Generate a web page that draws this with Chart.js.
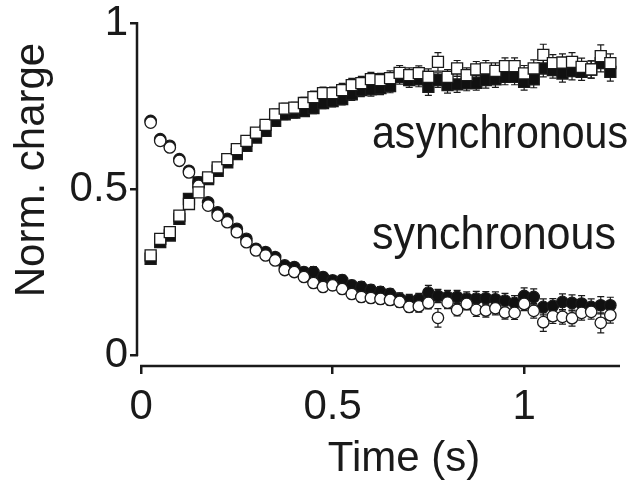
<!DOCTYPE html>
<html>
<head>
<meta charset="utf-8">
<script src="https://cdn.jsdelivr.net/npm/chart.js@4.4.0/dist/chart.umd.min.js"></script>
<style>
  body { margin: 0; background: #fff; }
  canvas { display: block; }
</style>
</head>
<body>
<canvas id="myChart" width="630" height="483"></canvas>
<script>
// time points (s)
const times = [0.025, 0.05, 0.075, 0.1, 0.125, 0.15, 0.175, 0.2, 0.225, 0.25,
  0.275, 0.3, 0.325, 0.35, 0.375, 0.4, 0.425, 0.45, 0.475, 0.5,
  0.525, 0.55, 0.575, 0.6, 0.625, 0.65, 0.675, 0.7, 0.725, 0.75,
  0.775, 0.8, 0.825, 0.85, 0.875, 0.9, 0.925, 0.95, 0.975, 1.0,
  1.025, 1.05, 1.075, 1.1, 1.125, 1.15, 1.175, 1.2, 1.225]

// asynchronous, open squares
const asyncOpen = [0.30, 0.35, 0.37, 0.42, 0.455, 0.49, 0.535, 0.565, 0.59, 0.62,
  0.645, 0.67, 0.693, 0.725, 0.742, 0.745, 0.759, 0.777, 0.789, 0.789,
  0.798, 0.813, 0.819, 0.831, 0.828, 0.834, 0.85, 0.843, 0.849, 0.838,
  0.883, 0.838, 0.863, 0.843, 0.86, 0.863, 0.856, 0.87, 0.87, 0.848,
  0.863, 0.904, 0.879, 0.881, 0.883, 0.868, 0.86, 0.90, 0.879]
const asyncOpenErr = [0.01, 0.01, 0.01, 0.012, 0.012, 0.012, 0.012, 0.012, 0.014, 0.014,
  0.014, 0.015, 0.015, 0.016, 0.016, 0.016, 0.017, 0.018, 0.018, 0.018,
  0.02, 0.02, 0.02, 0.02, 0.02, 0.022, 0.022, 0.022, 0.022, 0.024,
  0.028, 0.022, 0.024, 0.022, 0.024, 0.024, 0.024, 0.025, 0.025, 0.024,
  0.026, 0.032, 0.026, 0.026, 0.028, 0.026, 0.026, 0.034, 0.028]

// asynchronous, filled squares
const asyncFilled = [0.29, 0.34, 0.36, 0.41, 0.47, 0.52, 0.53, 0.555, 0.58, 0.605,
  0.63, 0.655, 0.675, 0.705, 0.725, 0.73, 0.735, 0.744, 0.759, 0.765,
  0.771, 0.785, 0.798, 0.80, 0.804, 0.81, 0.838, 0.828, 0.83, 0.808,
  0.828, 0.813, 0.815, 0.818, 0.82, 0.828, 0.83, 0.838, 0.838, 0.823,
  0.83, 0.863, 0.858, 0.848, 0.855, 0.853, 0.86, 0.879, 0.853]
const asyncFilledErr = [0.01, 0.01, 0.01, 0.012, 0.012, 0.012, 0.012, 0.012, 0.013, 0.013,
  0.014, 0.014, 0.015, 0.015, 0.016, 0.016, 0.016, 0.017, 0.017, 0.018,
  0.018, 0.018, 0.02, 0.02, 0.02, 0.02, 0.022, 0.022, 0.022, 0.026,
  0.022, 0.024, 0.024, 0.022, 0.022, 0.024, 0.024, 0.024, 0.024, 0.025,
  0.025, 0.025, 0.024, 0.026, 0.026, 0.026, 0.026, 0.026, 0.028]

// synchronous, open circles
const syncOpen = [0.70, 0.645, 0.625, 0.585, 0.55, 0.51, 0.45, 0.42, 0.40, 0.37,
  0.34, 0.315, 0.30, 0.285, 0.256, 0.25, 0.235, 0.217, 0.205, 0.21,
  0.199, 0.184, 0.175, 0.172, 0.169, 0.166, 0.16, 0.145, 0.147, 0.157,
  0.112, 0.158, 0.136, 0.154, 0.136, 0.134, 0.141, 0.128, 0.127, 0.154,
  0.133, 0.099, 0.117, 0.115, 0.111, 0.127, 0.13, 0.097, 0.12]
const syncOpenErr = [0.012, 0.01, 0.01, 0.01, 0.01, 0.01, 0.01, 0.01, 0.01, 0.01,
  0.01, 0.012, 0.012, 0.012, 0.012, 0.012, 0.012, 0.014, 0.014, 0.014,
  0.014, 0.014, 0.015, 0.015, 0.015, 0.016, 0.016, 0.016, 0.018, 0.018,
  0.028, 0.018, 0.018, 0.018, 0.02, 0.02, 0.02, 0.02, 0.02, 0.02,
  0.022, 0.028, 0.022, 0.022, 0.024, 0.022, 0.022, 0.03, 0.024]

// synchronous, filled circles
const syncFilled = [0.705, 0.65, 0.63, 0.59, 0.555, 0.52, 0.46, 0.43, 0.41, 0.38,
  0.35, 0.32, 0.31, 0.295, 0.27, 0.265, 0.25, 0.25, 0.235, 0.225,
  0.226, 0.21, 0.205, 0.196, 0.19, 0.184, 0.17, 0.165, 0.168, 0.188,
  0.178, 0.175, 0.175, 0.17, 0.17, 0.171, 0.168, 0.164, 0.157, 0.178,
  0.175, 0.145, 0.148, 0.16, 0.157, 0.155, 0.145, 0.15, 0.15]
const syncFilledErr = [0.01, 0.01, 0.01, 0.01, 0.01, 0.01, 0.01, 0.01, 0.01, 0.012,
  0.012, 0.012, 0.012, 0.012, 0.013, 0.013, 0.014, 0.016, 0.014, 0.014,
  0.015, 0.015, 0.016, 0.016, 0.016, 0.016, 0.017, 0.018, 0.018, 0.022,
  0.02, 0.02, 0.02, 0.02, 0.022, 0.02, 0.022, 0.022, 0.022, 0.024,
  0.024, 0.024, 0.022, 0.024, 0.024, 0.024, 0.024, 0.026, 0.024]

// axes
const xTicks = [0, 0.5, 1]
const xTickLabels = ['0', '0.5', '1']
const yTicks = [0, 0.5, 1]
const yTickLabels = ['0', '0.5', '1']
const xTitle = 'Time (s)'
const yTitle = 'Norm. charge'
const asyncLabel = 'asynchronous'
const syncLabel = 'synchronous'

const FONT = '"Liberation Sans", Arial, Helvetica, sans-serif'
const INK = '#1a1a1a'

function toPoints(vals) {
  return times.map((t, i) => ({ x: t, y: vals[i] }))
}

// error bars drawn under the markers
const errorBars = {
  id: 'errorBars',
  beforeDatasetsDraw(chart) {
    let ctx = chart.ctx
    let yScale = chart.scales.y
    ctx.save()
    ctx.strokeStyle = INK
    ctx.lineWidth = 1.2
    chart.data.datasets.forEach((ds, d) => {
      let meta = chart.getDatasetMeta(d)
      meta.data.forEach((pt, i) => {
        let v = ds.data[i].y
        let e = ds.errors[i]
        let y1 = yScale.getPixelForValue(v + e)
        let y2 = yScale.getPixelForValue(v - e)
        ctx.beginPath()
        ctx.moveTo(pt.x, y1); ctx.lineTo(pt.x, y2)
        ctx.moveTo(pt.x - 3.5, y1); ctx.lineTo(pt.x + 3.5, y1)
        ctx.moveTo(pt.x - 3.5, y2); ctx.lineTo(pt.x + 3.5, y2)
        ctx.stroke()
      })
    })
    ctx.restore()
  }
}

// separated axis lines (y stops at 0, x starts at 0)
const axisLines = {
  id: 'axisLines',
  beforeDatasetsDraw(chart) {
    let ctx = chart.ctx
    let xs = chart.scales.x
    let ys = chart.scales.y
    let area = chart.chartArea
    ctx.save()
    ctx.strokeStyle = INK
    ctx.lineWidth = 2.5
    ctx.lineCap = 'butt'
    ctx.beginPath()
    ctx.moveTo(area.left - 1, ys.getPixelForValue(yTicks[yTicks.length - 1]) - 1)
    ctx.lineTo(area.left - 1, ys.getPixelForValue(yTicks[0]) + 1)
    ctx.moveTo(xs.getPixelForValue(xTicks[0]) - 1, area.bottom + 1)
    ctx.lineTo(area.right + 2, area.bottom + 1)
    ctx.stroke()
    ctx.restore()
  }
}

// axis titles and curve names
const texts = {
  id: 'texts',
  afterDraw(chart) {
    let ctx = chart.ctx
    ctx.save()
    ctx.fillStyle = INK
    ctx.textBaseline = 'alphabetic'

    ctx.font = '42px ' + FONT
    ctx.textAlign = 'center'
    ctx.fillText(xTitle, 404, 471)

    ctx.save()
    ctx.translate(44, 170)
    ctx.rotate(-Math.PI / 2)
    ctx.fillText(yTitle, 0, 0, 272)
    ctx.restore()

    ctx.font = '46px ' + FONT
    ctx.textAlign = 'left'
    ctx.fillText(asyncLabel, 372, 148, 256)
    ctx.fillText(syncLabel, 372, 249, 244)
    ctx.restore()
  }
}

let ctx = document.getElementById('myChart')
let chart = new Chart(ctx, {
  type: 'scatter',
  data: {
    datasets: [
      {
        label: 'asynchronous (open)',
        data: toPoints(asyncOpen),
        errors: asyncOpenErr,
        pointStyle: 'rect',
        pointRadius: 7.8,
        pointBorderWidth: 1.3,
        pointBorderColor: INK,
        pointBackgroundColor: '#fff'
      },
      {
        label: 'synchronous (open)',
        data: toPoints(syncOpen),
        errors: syncOpenErr,
        pointStyle: 'circle',
        pointRadius: 5.7,
        pointBorderWidth: 1.3,
        pointBorderColor: INK,
        pointBackgroundColor: '#fff'
      },
      {
        label: 'asynchronous (filled)',
        data: toPoints(asyncFilled),
        errors: asyncFilledErr,
        pointStyle: 'rect',
        pointRadius: 7.8,
        pointBorderWidth: 1.3,
        pointBorderColor: INK,
        pointBackgroundColor: '#111'
      },
      {
        label: 'synchronous (filled)',
        data: toPoints(syncFilled),
        errors: syncFilledErr,
        pointStyle: 'circle',
        pointRadius: 5.7,
        pointBorderWidth: 1.3,
        pointBorderColor: INK,
        pointBackgroundColor: '#111'
      }
    ]
  },
  options: {
    responsive: false,
    animation: false,
    devicePixelRatio: 1,
    events: [],
    layout: { padding: { top: 23, right: 12, left: 0, bottom: 0 } },
    plugins: {
      legend: { display: false },
      tooltip: { enabled: false }
    },
    scales: {
      x: {
        type: 'linear',
        min: -0.008,
        max: 1.245,
        afterFit: s => { s.height = 118 },
        afterBuildTicks: s => { s.ticks = xTicks.map(v => ({ value: v })) },
        grid: { drawOnChartArea: false, drawTicks: true, tickLength: 9, color: INK, lineWidth: 2.5 },
        border: { display: false },
        ticks: {
          color: INK,
          padding: 12,
          maxRotation: 0,
          font: { family: FONT, size: 42, lineHeight: 1 },
          callback: (v, i) => xTickLabels[i]
        }
      },
      y: {
        type: 'linear',
        min: -0.03,
        max: 1,
        afterFit: s => { s.width = 138 },
        afterBuildTicks: s => { s.ticks = yTicks.map(v => ({ value: v })) },
        grid: { drawOnChartArea: false, drawTicks: true, tickLength: 8, color: INK, lineWidth: 2.5 },
        border: { display: false },
        ticks: {
          color: INK,
          padding: 2,
          font: { family: FONT, size: 42, lineHeight: 1 },
          callback: (v, i) => yTickLabels[i]
        }
      }
    }
  },
  plugins: [axisLines, errorBars, texts]
})
</script>
</body>
</html>
